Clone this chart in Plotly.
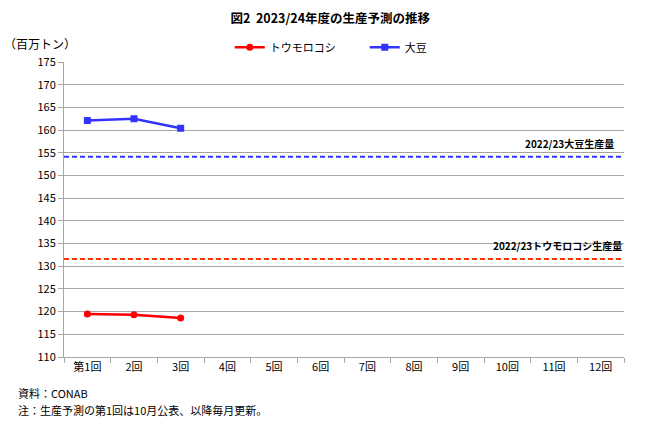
import plotly.graph_objects as go

categories = ["第1回", "2回", "3回", "4回", "5回", "6回", "7回", "8回", "9回", "10回", "11回", "12回"]
corn = [119.5, 119.3, 118.6]
soy = [162.1, 162.5, 160.4]
corn_prev = 131.6
soy_prev = 154.1
ytick_vals = list(range(110, 176, 5))

FONT = "Noto Sans CJK JP"

fig = go.Figure()
fig.add_trace(go.Scatter(
    x=categories[:len(corn)], y=corn, name="トウモロコシ", mode="lines+markers",
    line=dict(color="#FF0000", width=2.5),
    marker=dict(symbol="circle", size=7, color="#FF0000"),
))
fig.add_trace(go.Scatter(
    x=categories[:len(soy)], y=soy, name="大豆", mode="lines+markers",
    line=dict(color="#3333FF", width=2.5),
    marker=dict(symbol="square", size=7, color="#3333FF"),
))
# invisible trace to force all categories on the axis
fig.add_trace(go.Scatter(x=categories, y=[None] * len(categories), showlegend=False,
                         hoverinfo="skip", mode="markers"))

fig.add_shape(type="line", xref="paper", yref="y", x0=0, x1=1, y0=soy_prev, y1=soy_prev,
              line=dict(color="#3333FF", width=2, dash="5px,3px"))
fig.add_shape(type="line", xref="paper", yref="y", x0=0, x1=1, y0=corn_prev, y1=corn_prev,
              line=dict(color="#FF3300", width=2, dash="5px,3px"))

fig.add_annotation(x=0.985, xref="paper", xanchor="right", y=soy_prev, yref="y", yanchor="bottom",
                   yshift=4, text="<b>2022/23大豆生産量</b>", showarrow=False,
                   font=dict(family=FONT, size=10, color="#000000"))
fig.add_annotation(x=1.0, xref="paper", xanchor="right", y=corn_prev, yref="y", yanchor="bottom",
                   yshift=4, text="<b>2022/23トウモロコシ生産量</b>", showarrow=False,
                   font=dict(family=FONT, size=10, color="#000000"))

fig.add_annotation(x=-0.11, xref="paper", xanchor="left", y=1.064, yref="paper", yanchor="middle",
                   text="（百万トン）", showarrow=False,
                   font=dict(family=FONT, size=12, color="#000000"))
fig.add_annotation(x=-0.085, xref="paper", xanchor="left", y=-0.122, yref="paper", yanchor="middle",
                   text="資料：CONAB", showarrow=False,
                   font=dict(family=FONT, size=11, color="#000000"))
fig.add_annotation(x=-0.085, xref="paper", xanchor="left", y=-0.18, yref="paper", yanchor="middle",
                   text="注：生産予測の第1回は10月公表、以降毎月更新。", showarrow=False,
                   font=dict(family=FONT, size=11, color="#000000"))

fig.update_layout(
    width=650, height=428,
    margin=dict(l=64, r=26, t=62, b=71),
    paper_bgcolor="white", plot_bgcolor="white",
    font=dict(family=FONT, size=11, color="#000000"),
    title=dict(text="<b>図2  2023/24年度の生産予測の推移</b>", x=0.508, xanchor="center",
               y=0.957, yanchor="middle", font=dict(family=FONT, size=12.5, color="#000000")),
    legend=dict(orientation="h", x=0.296, xanchor="left", y=1.05, yanchor="middle",
                font=dict(family=FONT, size=11, color="#000000"),
                entrywidth=90, entrywidthmode="pixels",
                bgcolor="rgba(0,0,0,0)"),
    xaxis=dict(type="category", categoryorder="array", categoryarray=categories,
               range=[-0.5, len(categories) - 0.5],
               showgrid=False, showline=True, linecolor="#A6A6A6", linewidth=1,
               ticks="outside", tickson="boundaries", ticklen=5, tickcolor="#A6A6A6",
               tickfont=dict(family=FONT, size=11, color="#000000"), zeroline=False),
    yaxis=dict(range=[110, 175], tickvals=ytick_vals, showgrid=True, gridcolor="#A6A6A6",
               gridwidth=1, showline=True, linecolor="#A6A6A6", linewidth=1,
               ticks="outside", ticklen=5, tickcolor="#A6A6A6", zeroline=False,
               tickfont=dict(family=FONT, size=11, color="#000000")),
    showlegend=True,
)

fig.write_html("out.html", config={"displayModeBar": False},
               post_script="document.body.style.margin='0px';")
